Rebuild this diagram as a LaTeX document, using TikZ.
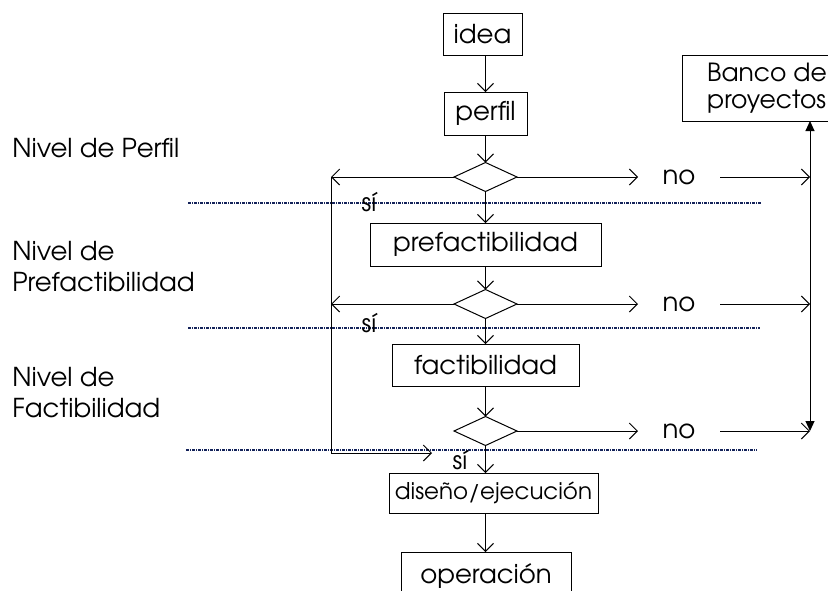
\documentclass[tikz,border=0pt]{standalone}
\usepackage{fontspec}
\setmainfont{texgyreadventor-regular.otf}
\usetikzlibrary{arrows.meta,shapes.geometric}
\definecolor{levelline}{HTML}{14235A}
\begin{document}
\begin{tikzpicture}[x=1pt,y=-1pt,
  font=\fontsize{26}{31}\selectfont,
  every node/.style={outer sep=0pt},
  stage/.style={draw, line width=1pt, inner sep=0pt},
  decision/.style={draw, diamond, line width=1pt, inner sep=0pt,
                   minimum width=63pt, minimum height=29pt},
  flow/.style={line width=1pt, -{Straight Barb[length=8pt,width=16pt,line width=1pt]}},
  plain/.style={line width=1pt},
  bank/.style={line width=1pt, {Triangle[length=10pt,width=9pt]}-{Triangle[length=10pt,width=9pt]}},
  level/.style={draw=levelline, line width=1.6pt,
                dash pattern=on 3pt off 1pt on 1pt off 1pt},
  yes/.style={font=\fontsize{25}{27}\selectfont},
  side/.style={align=left, anchor=west}]
\useasboundingbox (0,0) rectangle (828,590);
\clip (0,0) rectangle (828,590);

% stages of the project cycle
\node[stage, minimum width=79pt,  minimum height=42pt] (idea) at (482.5,34)  {idea};
\node[stage, minimum width=83pt,  minimum height=43pt] (perfil) at (485.5,113.5) {perfil};
\node[stage, minimum width=231pt, minimum height=43pt] (pref) at (485.5,244.5) {prefactibilidad};
\node[stage, minimum width=187pt, minimum height=42pt] (fact) at (485.5,365) {factibilidad};
\node[stage, minimum width=209pt, minimum height=40pt, font=\fontsize{23}{27}\selectfont]
  (dis) at (493.5,493) {diseño/ejecución};
\node[stage, minimum width=170pt, minimum height=76pt, anchor=north] (op) at (486,552) {};
\node at (486,576) {operación};

% decisions
\node[decision] (d1) at (485.5,177) {};
\node[decision] (d2) at (485.5,304) {};
\node[decision] (d3) at (485.5,431) {};

% project bank
\node[stage, minimum width=170pt, minimum height=66pt, anchor=north west, align=left,
      font=\fontsize{25}{27}\selectfont]
  (banco) at (682,55) {Banco de\\proyectos};

% level separators
\coordinate (s1a) at (188,203); \coordinate (s1b) at (762,203);
\coordinate (s2a) at (188,328); \coordinate (s2b) at (760,328);
\coordinate (s3a) at (186,450); \coordinate (s3b) at (757,450);
\draw[level] (s1a) -- (s1b);
\draw[level] (s2a) -- (s2b);
\draw[level] (s3a) -- (s3b);

% level names
\node[side] (n1) at (9,148) {Nivel de Perfil};
\node[side] (n2) at (9,267) {Nivel de\\Prefactibilidad};
\node[side] (n3) at (9,393) {Nivel de\\Factibilidad};

% main flow
\draw[flow] (idea.south -| d1) -- (perfil.north -| d1);
\draw[flow] (perfil.south -| d1) -- (d1.north);
\draw[flow] (d1.south) -- (pref.north -| d1);
\draw[flow] (pref.south -| d1) -- (d2.north);
\draw[flow] (d2.south) -- (fact.north -| d2);
\draw[flow] (fact.south -| d2) -- (d3.north);
\draw[flow] (d3.south) -- (dis.north -| d3);
\draw[flow] (dis.south -| d3) -- (op.north -| d3);

% return loop on the left
\coordinate (l1) at (331,177);
\coordinate (l2) at (331,304);
\coordinate (l3) at (331,453);
\coordinate (l4) at (432,453);
\draw[flow] (d1.west) -- (l1);
\draw[flow] (d2.west) -- (l2);
\draw[plain] (l1) -- (l3);
\draw[flow] (l3) -- (l4);

% "sí" labels
\node[yes] (y1) at (369,202) {sí};
\node[yes] (y2) at (369,323) {sí};
\node[yes] (y3) at (460,460) {sí};

% rejections to the project bank
\node[minimum width=82pt] (no1) at (679,177) {no};
\node[minimum width=82pt] (no2) at (679,304) {no};
\node[minimum width=82pt] (no3) at (679,431) {no};
\coordinate (r1) at (810,177);
\coordinate (r2) at (810,304);
\coordinate (r3) at (810,431);
\draw[flow] (d1.east) -- (no1.west);
\draw[flow] (d2.east) -- (no2.west);
\draw[flow] (d3.east) -- (no3.west);
\draw[flow] (no1.east) -- (r1);
\draw[flow] (no2.east) -- (r2);
\draw[flow] (no3.east) -- (r3);
\draw[bank] (banco.south -| r1) -- (r3);
\end{tikzpicture}
\end{document}
